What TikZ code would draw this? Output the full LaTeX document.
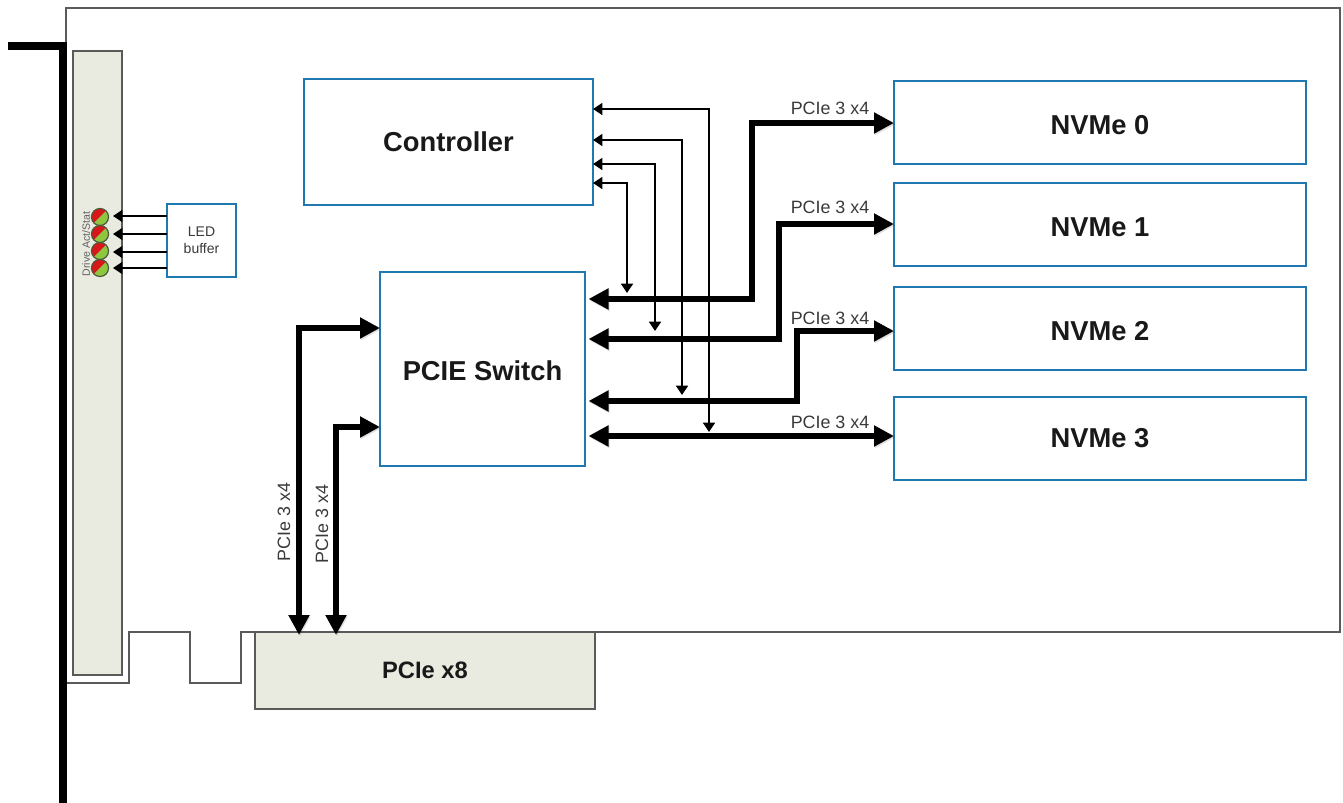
\documentclass[tikz,border=0pt]{standalone}
\usepackage{fontspec}
\setmainfont{Liberation Sans}
\usetikzlibrary{arrows.meta}
\definecolor{boxblue}{HTML}{1F78B0}
\definecolor{plate}{HTML}{E9EAE0}
\definecolor{edge}{HTML}{5A5A5A}
\definecolor{ink}{HTML}{3A3A3A}
\definecolor{ledred}{HTML}{D81818}
\definecolor{ledgreen}{HTML}{8DC63F}
\definecolor{ledrim}{HTML}{4A5A3A}
\tikzset{
  bluebox/.style={draw=boxblue,line width=1.5pt,fill=white,inner sep=0pt,outer sep=0pt,font=\bfseries\fontsize{20.5}{24}\selectfont,text=black!90},
  lowtext/.style={text height=17.4pt,text depth=0pt},
  platebox/.style={draw=edge,line width=1.1pt,fill=plate,inner sep=0pt,outer sep=0pt},
  bothway/.style={line width=5pt,{Triangle[length=15pt,width=15pt]}-{Triangle[length=15pt,width=15pt]},line join=miter},
  thinarrow/.style={line width=1.3pt,-{Triangle[length=7pt,width=9pt]}},
  thinboth/.style={line width=1.3pt,{Triangle[length=7pt,width=9pt]}-{Triangle[length=7pt,width=9pt]}},
  softshadow/.style={preaction={draw=black,opacity=.12,transform canvas={shift={(1,1.5)}}}},
  buslabel/.style={text=ink,font=\fontsize{13.4}{15}\selectfont,inner sep=0pt},
}
\begin{document}
\begin{tikzpicture}[x=0.75pt,y=-0.75pt]
\useasboundingbox (0,0) rectangle (1343,803);
% board outline
\draw[edge,line width=1.1pt,line join=miter]
  (66,44) -- (66,8) -- (1340,8) -- (1340,632) -- (241,632) -- (241,683) -- (190,683) -- (190,632) -- (129,632) -- (129,683) -- (66,683);
% bracket
\node[platebox,minimum width=36.75pt,minimum height=468pt] (plate) at (97.5,363) {};
\draw[black,line width=5.6pt] (8,46) -- (63,46) -- (63,803);
% PCIe connector
\node[platebox,minimum width=255pt,minimum height=57.75pt,font=\bfseries\fontsize{17.8}{20}\selectfont,text=black!90] (edgeconn) at (425,670.5) {PCIe x8};
% main boxes
\node[bluebox,minimum width=216.75pt,minimum height=94.5pt] (ctrl) at (448.5,142) {Controller};
\node[bluebox,minimum width=153.75pt,minimum height=145.5pt,lowtext] (sw) at (482.5,369) {PCIE Switch};
\node[bluebox,minimum width=309pt,minimum height=62.25pt,lowtext] (nv0) at (1100,122.5) {NVMe 0};
\node[bluebox,minimum width=309pt,minimum height=62.25pt,lowtext] (nv1) at (1100,224.5) {NVMe 1};
\node[bluebox,minimum width=309pt,minimum height=62.25pt,lowtext] (nv2) at (1100,328.5) {NVMe 2};
\node[bluebox,minimum width=309pt,minimum height=62.25pt] (nv3) at (1100,438.5) {NVMe 3};
\node[draw=boxblue,line width=1.5pt,fill=white,inner sep=0pt,outer sep=0pt,minimum width=51.75pt,minimum height=54.75pt,align=center,text=ink,font=\fontsize{10.5}{13}\selectfont] (buf) at (201.5,240.5) {LED\\buffer};
% LEDs
\foreach \n/\y in {1/217,2/234,3/251,4/268}{
  \fill[ledred] (100,\y) ++(135:8.5) arc (135:315:8.5) -- cycle;
  \fill[ledgreen] (100,\y) ++(-45:8.5) arc (-45:135:8.5) -- cycle;
  \node[circle,draw=ledrim,line width=.9pt,minimum size=12.8pt,inner sep=0pt,outer sep=0pt] (led\n) at (100,\y) {};
}
\node[rotate=90,text=ink!80,font=\fontsize{7.9}{9}\selectfont,inner sep=0pt] (ledtxt) at (86,244) {Drive Act/Stat};
\coordinate (t1) at (113,216);
\coordinate (t2) at (113,234);
\coordinate (t3) at (113,252);
\coordinate (t4) at (113,268);
\draw[thinarrow] (buf.west |- t1) -- (t1);
\draw[thinarrow] (buf.west |- t2) -- (t2);
\draw[thinarrow] (buf.west |- t3) -- (t3);
\draw[thinarrow] (buf.west |- t4) -- (t4);
% thick buses right
\coordinate (sa) at (588.5,299);
\coordinate (sb) at (588.5,339);
\coordinate (sc) at (588.5,401);
\coordinate (sd) at (588.5,436);
\draw[bothway,softshadow] (sa) -- (752,299) |- (nv0.west |- 0,123);
\draw[bothway,softshadow] (sb) -- (779,339) |- (nv1.west |- 0,224);
\draw[bothway,softshadow] (sc) -- (797,401) |- (nv2.west |- 0,331);
\draw[bothway,softshadow] (sd) -- (nv3.west |- sd);
% thick buses left
\coordinate (ea) at (299,635);
\coordinate (eb) at (336,635);
\draw[bothway,softshadow] (ea) |- (sw.west |- 0,328);
\draw[bothway,softshadow] (eb) |- (sw.west |- 0,427);
% thin control lines
\draw[thinboth] (ctrl.east |- 0,109) -| (709,432);
\draw[thinboth] (ctrl.east |- 0,140) -| (682,395);
\draw[thinboth] (ctrl.east |- 0,164) -| (655,331);
\draw[thinboth] (ctrl.east |- 0,183) -| (627,293);
% labels
\node[buslabel] (la) at (830,108) {PCIe 3 x4};
\node[buslabel] (lb) at (830,207) {PCIe 3 x4};
\node[buslabel] (lc) at (830,318) {PCIe 3 x4};
\node[buslabel] (ld) at (830,422) {PCIe 3 x4};
\node[buslabel,rotate=90] (le) at (284,522) {PCIe 3 x4};
\node[buslabel,rotate=90] (lf) at (322,524) {PCIe 3 x4};
\end{tikzpicture}
\end{document}
